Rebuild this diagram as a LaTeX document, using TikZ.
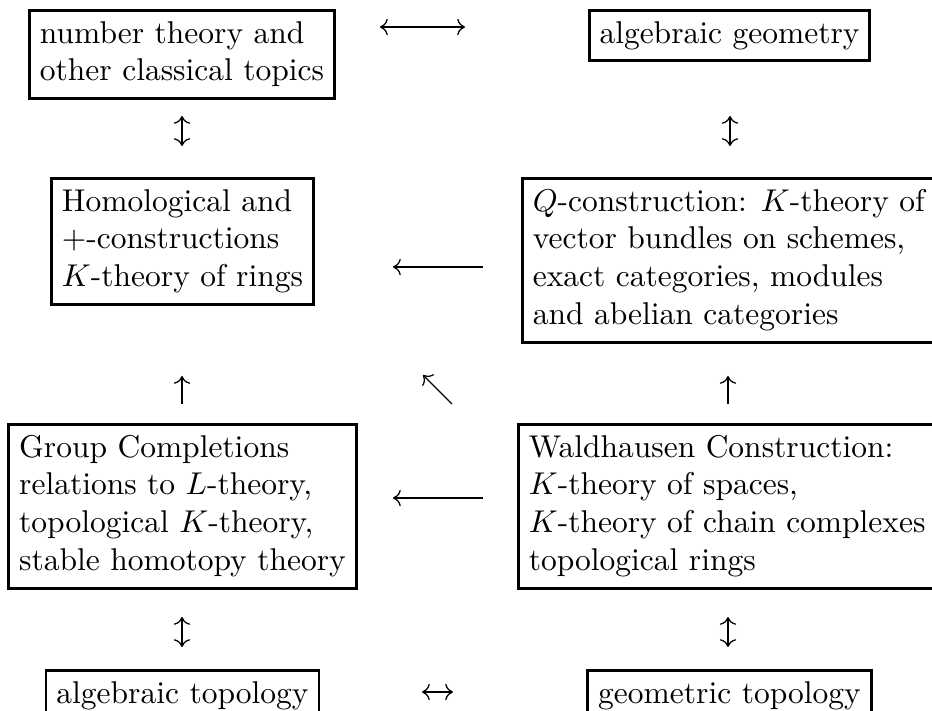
\documentclass[tikz,border=0pt]{standalone}
\usetikzlibrary{arrows.meta}
\begin{document}
\begin{tikzpicture}[x=0.3175pt,y=-0.3175pt,
  box/.style={draw, line width=0.9pt, inner xsep=3.3pt, inner ysep=2pt, anchor=north,
    font=\fontsize{10}{12}\selectfont},
  arr/.style={line width=0.4pt, -{Computer Modern Rightarrow}},
  darr/.style={line width=0.4pt, {Computer Modern Rightarrow}-{Computer Modern Rightarrow}}]
\clip (0,0) rectangle (932,711);
% boxes
\node[box] (nt) at (182,9) {\begin{tabular}{@{}l@{}}number theory and\\ other classical topics\end{tabular}};
\node[box] (ag) at (729.5,9) {\begin{tabular}{@{}l@{}}algebraic geometry\end{tabular}};
\node[box] (hom) at (182.5,177) {\begin{tabular}{@{}l@{}}Homological and\\ $+$-constructions\\ $K$-theory of rings\end{tabular}};
\node[box, anchor=north west] (qc) at (521,177) {\begin{tabular}{@{}l@{\hspace{5pt}}}$Q$-construction: $K$-theory of\\ vector bundles on schemes,\\ exact categories, modules\\ and abelian categories\end{tabular}};
\node[box] (grp) at (182.5,423) {\begin{tabular}{@{}l@{}}Group Completions\\ relations to $L$-theory,\\ topological $K$-theory,\\ stable homotopy theory\end{tabular}};
\node[box, anchor=north west] (wal) at (517,423) {\begin{tabular}{@{}l@{\hspace{5pt}}}Waldhausen Construction:\\ $K$-theory of spaces,\\ $K$-theory of chain complexes\\ topological rings\end{tabular}};
\node[box] (at) at (182.5,669) {\begin{tabular}{@{}l@{}}algebraic topology\end{tabular}};
\node[box] (gt) at (729.5,669) {\begin{tabular}{@{}l@{}}geometric topology\end{tabular}};
% arrow end points
\coordinate (a1l) at (380,27);  \coordinate (a1r) at (465,27);
\coordinate (b1t) at (182,116); \coordinate (b1b) at (182,146);
\coordinate (b2t) at (730,116); \coordinate (b2b) at (730,146);
\coordinate (c1r) at (483,267); \coordinate (c1l) at (393,267);
\coordinate (d1b) at (182,404); \coordinate (d1t) at (182,376);
\coordinate (d2b) at (728,404); \coordinate (d2t) at (728,376);
\coordinate (d3b) at (452,404); \coordinate (d3t) at (423,375);
\coordinate (e1r) at (483,498); \coordinate (e1l) at (393,498);
\coordinate (f1t) at (182,617); \coordinate (f1b) at (182,647);
\coordinate (f2t) at (728,617); \coordinate (f2b) at (728,647);
\coordinate (g1l) at (422,692); \coordinate (g1r) at (453,692);
% connectors
\draw[darr] (a1l) -- (a1r);
\draw[darr] (b1t) -- (b1b);
\draw[darr] (b2t) -- (b2b);
\draw[arr] (c1r) -- (c1l);
\draw[arr] (d1b) -- (d1t);
\draw[arr] (d2b) -- (d2t);
\draw[arr] (d3b) -- (d3t);
\draw[arr] (e1r) -- (e1l);
\draw[darr] (f1t) -- (f1b);
\draw[darr] (f2t) -- (f2b);
\draw[darr] (g1l) -- (g1r);
\end{tikzpicture}
\end{document}
